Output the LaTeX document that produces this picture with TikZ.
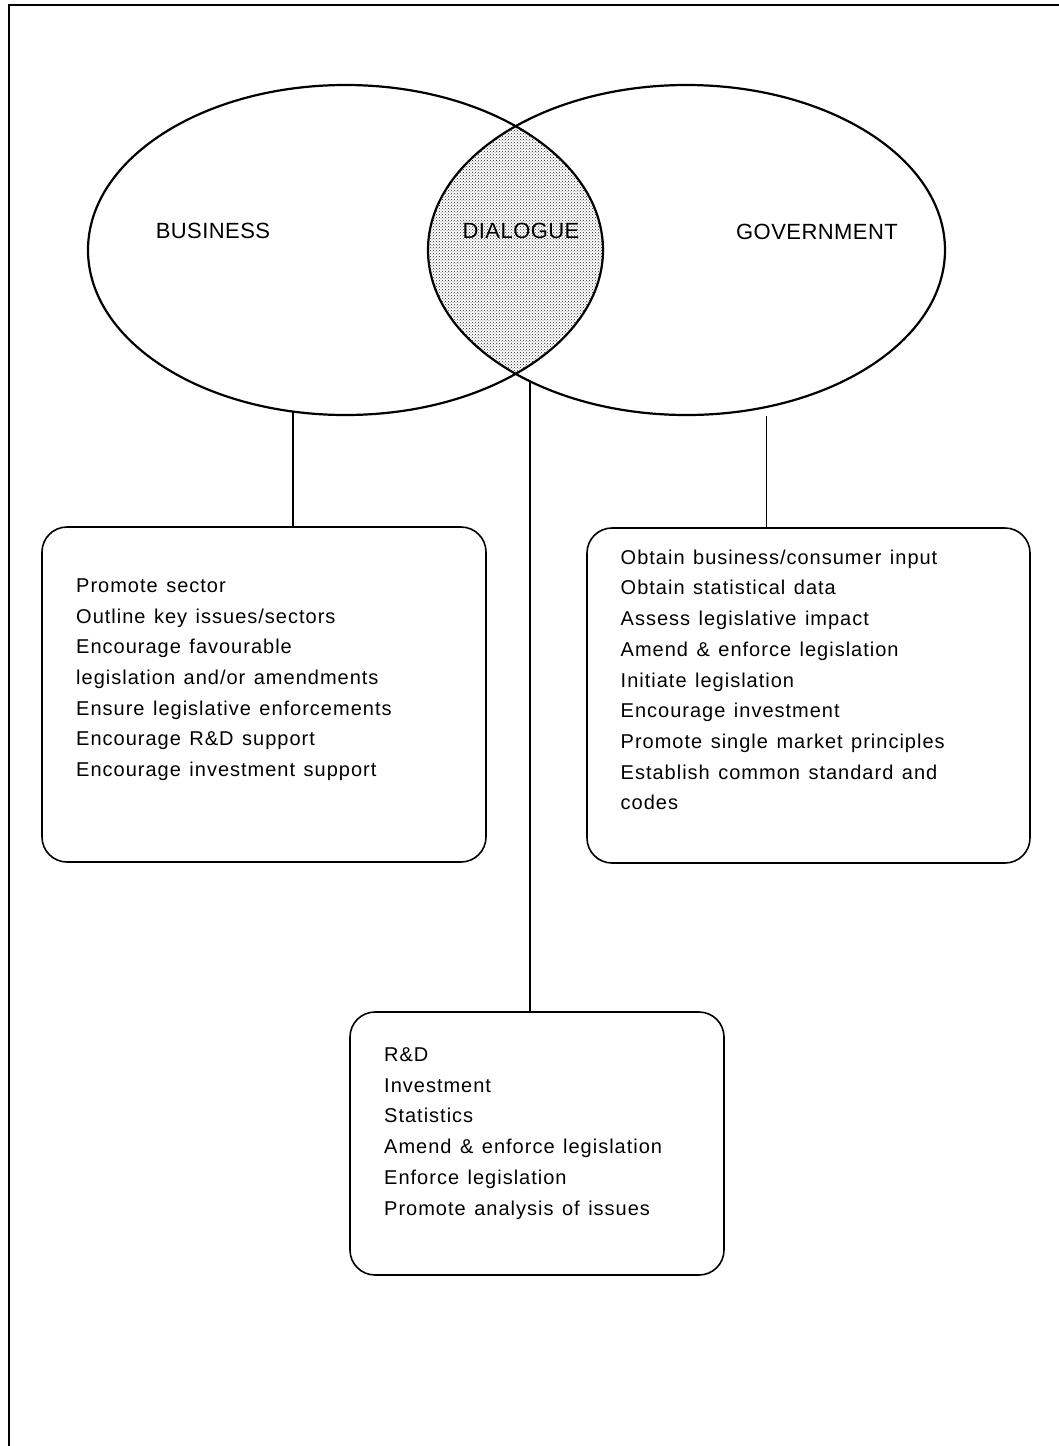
\documentclass[tikz,border=0pt]{standalone}
\usepackage{fontspec}
\usetikzlibrary{shapes.geometric,patterns}
\newfontfamily\headfont[LetterSpace=2]{Liberation Sans}
\newfontfamily\listfont[LetterSpace=5,WordSpace=1.3]{Liberation Sans}
\begin{document}
\begin{tikzpicture}[x=1pt,y=-1pt,
  circ/.style={ellipse,draw,line width=2.2pt,inner sep=0pt,outer sep=0pt,
               minimum width=516pt,minimum height=330pt},
  panel/.style={draw,line width=1.6pt,rounded corners=25pt,inner sep=0pt,outer sep=0pt},
  heading/.style={font=\headfont\fontsize{22}{26}\selectfont,inner sep=0pt},
  items/.style={font=\listfont\fontsize{20}{30.7}\selectfont,align=left,
                anchor=north west,inner sep=0pt},
  link/.style={line width=1.7pt}]
  \useasboundingbox (0,0) rectangle (1059,1446);

  % page frame (top and left edges)
  \draw[line width=2pt] (9,1446) -- (9,5) -- (1059,5);

  % shaded overlap of the two sets
  \begin{scope}
    \clip (345.5,250) ellipse [x radius=257.5, y radius=165];
    \fill[pattern=crosshatch dots,pattern color=black!85]
      (686.5,250) ellipse [x radius=258.5, y radius=165];
  \end{scope}

  % the two sets
  \node[circ,minimum width=515pt] (bus) at (345.5,250) {};
  \node[circ,minimum width=517pt] (gov) at (686.5,250) {};

  \node[heading] (bustext) at (213,231) {BUSINESS};
  \node[heading] (dialtext) at (521,231) {DIALOGUE};
  \node[heading] (govtext) at (817,232) {GOVERNMENT};

  % panels
  \node[panel,minimum width=444pt,minimum height=335pt] (lbox) at (264,694.5) {};
  \node[panel,minimum width=443pt,minimum height=335pt] (rbox) at (808.5,695.5) {};
  \node[panel,minimum width=374pt,minimum height=263pt] (cbox) at (537,1143.5) {};

  % panel texts
  \node[items] (ltext) at (76,578.5) {Promote sector\\Outline key issues/sectors\\
    Encourage favourable\\legislation and/or amendments\\
    Ensure legislative enforcements\\Encourage R\&D support\\
    Encourage investment support};
  \node[items] (rtext) at (620.5,549.5) {Obtain business/consumer input\\
    Obtain statistical data\\Assess legislative impact\\
    Amend \& enforce legislation\\Initiate legislation\\
    Encourage investment\\Promote single market principles\\
    Establish common standard and\\codes};
  \node[items] (ctext) at (384,1047.5) {R\&D\\Investment\\Statistics\\
    Amend \& enforce legislation\\Enforce legislation\\
    Promote analysis of issues};

  % connectors
  \draw[link] (bus.252.16) -- (bus.252.16 |- lbox.north);
  \draw[link] (gov.220.29) -- (gov.220.29 |- cbox.north);
  \draw[link,shorten <=9pt] (gov.297.3) -- (gov.297.3 |- rbox.north);
\end{tikzpicture}
\end{document}
